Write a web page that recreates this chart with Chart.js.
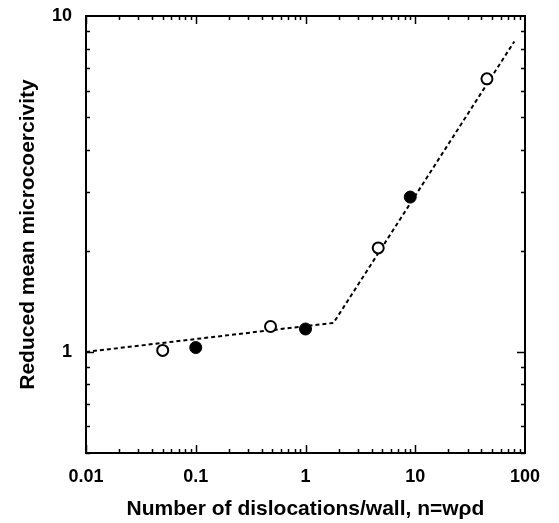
<!DOCTYPE html>
<html><head><meta charset="utf-8">
<script src="https://cdn.jsdelivr.net/npm/chart.js@4/dist/chart.umd.min.js"></script>
<style>html,body{margin:0;padding:0;background:#fff;}#wrap{width:559px;height:523px;}</style>
</head><body><div id="wrap"><canvas id="c" width="559" height="523"></canvas></div>
<script>
const openX = [0.05, 0.48, 4.6, 45];
const openY = [1.01, 1.19, 2.04, 6.5];
const filledX = [0.1, 1.0, 9.0];
const filledY = [1.03, 1.17, 2.89];
const fitX = [0.01, 1.8, 80];
const fitY = [1.0, 1.22, 8.4];
const xTickVals = [0.01, 0.1, 1, 10, 100];
const yTickVals = [1, 10];
const xTitle = 'Number of dislocations/wall, n=w\u03C1d';
const yTitle = 'Reduced mean microcoercivity';

const pts = (xs, ys) => xs.map((x, i) => ({x, y: ys[i]}));
const FONT = '"Liberation Sans", Arial, Helvetica, sans-serif';

const frame = {
  id: 'frame',
  afterDraw(chart) {
    const {ctx, chartArea: a, scales: {x, y}} = chart;
    ctx.save();
    ctx.strokeStyle = '#000';
    ctx.lineWidth = 2;
    ctx.strokeRect(a.left, a.top, a.right - a.left, a.bottom - a.top);
    ctx.lineWidth = 1.5;
    ctx.beginPath();
    for (let d = -2; d <= 1; d++) {
      for (let m = 1; m <= 9; m++) {
        const v = m * Math.pow(10, d);
        const px = Math.round(x.getPixelForValue(v)) + 0.5;
        const len = m === 1 ? 8 : 4;
        ctx.moveTo(px, a.bottom); ctx.lineTo(px, a.bottom - len);
        ctx.moveTo(px, a.top); ctx.lineTo(px, a.top + len);
      }
    }
    for (let d = -1; d <= 0; d++) {
      for (let m = 1; m <= 9; m++) {
        const v = m * Math.pow(10, d);
        if (v < 0.5 || v > 10) continue;
        const py = Math.round(y.getPixelForValue(v)) + 0.5;
        const len = m === 1 ? 8 : 4;
        ctx.moveTo(a.left, py); ctx.lineTo(a.left + len, py);
        ctx.moveTo(a.right, py); ctx.lineTo(a.right - len, py);
      }
    }
    ctx.stroke();
    ctx.restore();
  }
};

new Chart(document.getElementById('c'), {
  type: 'scatter',
  data: {
    datasets: [
      { label: 'fit', data: pts(fitX, fitY), showLine: true, borderColor: '#000', borderWidth: 2,
        borderDash: [4, 3], pointRadius: 0, fill: false, order: 3 },
      { label: 'open', data: pts(openX, openY), pointRadius: 5.5, pointBorderWidth: 2,
        pointBackgroundColor: '#fff', pointBorderColor: '#000', showLine: false, order: 1 },
      { label: 'filled', data: pts(filledX, filledY), pointRadius: 6, pointBorderWidth: 1,
        pointBackgroundColor: '#000', pointBorderColor: '#000', showLine: false, order: 2 }
    ]
  },
  options: {
    responsive: false, animation: false, devicePixelRatio: 1,
    layout: { padding: { top: 16, right: 34, left: 0, bottom: 0 } },
    plugins: { legend: { display: false }, tooltip: { enabled: false } },
    scales: {
      x: {
        type: 'logarithmic', min: 0.01, max: 100,
        afterBuildTicks: s => { s.ticks = xTickVals.map(v => ({value: v})); },
        afterFit: s => { s.height = 70; s.paddingLeft = 0; s.paddingRight = 0; },
        grid: { display: false, drawTicks: false }, border: { display: false },
        ticks: { color: '#000', padding: 13, maxRotation: 0, autoSkip: false,
          font: { family: FONT, size: 18, weight: 'bold' }, callback: v => String(v) },
        title: { display: true, text: xTitle, color: '#000', padding: { top: 0, bottom: 1 },
          font: { family: FONT, size: 21, weight: 'bold' } }
      },
      y: {
        type: 'logarithmic', min: 0.5, max: 10,
        afterBuildTicks: s => { s.ticks = yTickVals.map(v => ({value: v})); },
        afterFit: s => { s.width = 86; s.paddingTop = 0; s.paddingBottom = 0; },
        grid: { display: false, drawTicks: false }, border: { display: false },
        ticks: { color: '#000', padding: 14, autoSkip: false,
          font: { family: FONT, size: 18, weight: 'bold' }, callback: v => String(v) },
        title: { display: true, text: yTitle, color: '#000', padding: { top: 16, bottom: 0 },
          font: { family: FONT, size: 21, weight: 'bold' } }
      }
    }
  },
  plugins: [frame]
});
</script></body></html>
